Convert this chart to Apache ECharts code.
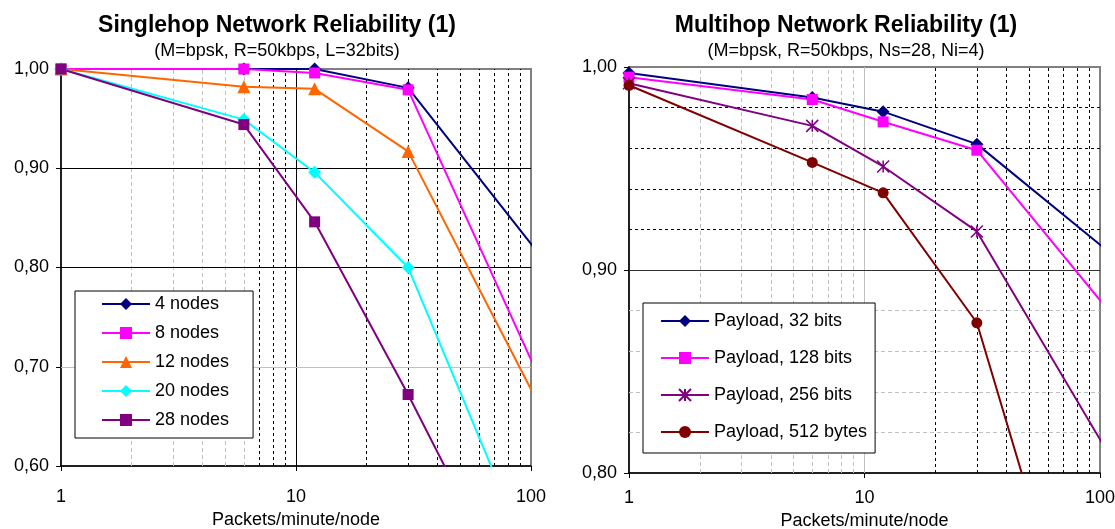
<!DOCTYPE html>
<html>
<head>
<meta charset="utf-8">
<script src="https://cdn.jsdelivr.net/npm/echarts@6/dist/echarts.min.js"></script>
<style>
html, body { margin: 0; padding: 0; background: #fff; }
#chart-container { width: 1115px; height: 529px; }
</style>
</head>
<body>
<div id="chart-container"></div>
<script>
// packets/minute/node (last point sits past the axis end, lines run off the plot)
var rates = [1, 6, 12, 30, 120];

// singlehop reliability, one array per node count
var singleNames = ['4 nodes', '8 nodes', '12 nodes', '20 nodes', '28 nodes'];
var nodes4  = [1.00, 1.00, 1.00, 0.981, 0.800];
var nodes8  = [1.00, 1.00, 0.996, 0.979, 0.666];
var nodes12 = [1.00, 0.982, 0.980, 0.917, 0.641];
var nodes20 = [1.00, 0.949, 0.896, 0.800, 0.459];
var nodes28 = [1.00, 0.944, 0.846, 0.672, 0.392];

// multihop reliability, one array per payload
var multiNames = ['Payload, 32 bits', 'Payload, 128 bits', 'Payload, 256 bits', 'Payload, 512 bytes'];
var pay32  = [0.997, 0.985, 0.978, 0.962, 0.905];
var pay128 = [0.995, 0.984, 0.973, 0.959, 0.874];
var pay256 = [0.992, 0.971, 0.951, 0.919, 0.801];
var pay512 = [0.991, 0.953, 0.938, 0.874, 0.640];

// tick labels
var xTicks = [1, 10, 100];

// grid line positions (the original mixes light and dark grid lines)
var singleLightX = [2, 3, 4, 5, 6];
var singleDarkX  = [7, 8, 9, 20, 30, 40, 50, 60, 70, 80, 90];
var singleSolidX = [10];
var singleDarkY  = [0.8, 0.9];
var singleLightY = [0.7];
var multiLightX  = [2, 3, 4, 5, 6, 7, 8, 9];
var multiLightSolidX = [10];
var multiDarkX   = [20, 30, 40, 50, 60, 70, 80, 90];
var multiDarkY   = [0.9];
var multiDarkDashY  = [0.92, 0.94, 0.96, 0.98];
var multiLightDashY = [0.82, 0.84, 0.86, 0.88];

var FONT = 'Liberation Sans, Arial, sans-serif';

function pairs(ys) {
  return rates.map(function (r, i) { return [r, ys[i]]; });
}

var light = { color: '#c0c0c0', width: 1, type: [4, 3] };
var lightSolid = { color: '#c0c0c0', width: 1, type: 'solid' };
var dark = { color: '#000', width: 1, type: [3, 3] };
var darkSolid = { color: '#000', width: 1, type: 'solid' };

function lines(vals, key, style) {
  return vals.map(function (v) {
    var o = { lineStyle: style };
    o[key] = v;
    return o;
  });
}

function gridSeries(idx, data) {
  return {
    type: 'line',
    xAxisIndex: idx,
    yAxisIndex: idx,
    data: [],
    silent: true,
    z: 1,
    markLine: {
      z: 1,
      silent: true,
      symbol: ['none', 'none'],
      label: { show: false },
      emphasis: { disabled: true },
      animation: false,
      data: data
    }
  };
}

function lineSeries(name, idx, ys, color, symbol, size, extra) {
  var s = {
    name: name,
    type: 'line',
    xAxisIndex: idx,
    yAxisIndex: idx,
    data: pairs(ys),
    z: 3,
    clip: true,
    symbol: symbol,
    symbolSize: size,
    showAllSymbol: true,
    lineStyle: { color: color, width: 2 },
    itemStyle: { color: color },
    emphasis: { disabled: true }
  };
  if (extra) Object.assign(s, extra);
  return s;
}

var asterisk = 'path://M0,0L10,10M10,0L0,10M5,0L5,10';

function xAxisOf(idx, margin, gap) {
  return {
    type: 'log',
    logBase: 10,
    gridIndex: idx,
    min: 1,
    max: 100,
    name: 'Packets/minute/node',
    nameLocation: 'middle',
    nameGap: gap,
    nameTextStyle: { fontSize: 18, fontFamily: FONT, color: '#000' },
    axisLine: { lineStyle: { color: '#000', width: 1.5 } },
    axisTick: { show: true, length: 5, lineStyle: { color: '#000' } },
    axisLabel: {
      fontSize: 18, fontFamily: FONT, color: '#000', margin: margin,
      formatter: function (v) { return xTicks.indexOf(v) >= 0 ? String(v) : ''; }
    },
    splitLine: { show: false },
    minorSplitLine: { show: false }
  };
}

function yAxisOf(idx, min) {
  return {
    type: 'value',
    gridIndex: idx,
    min: min,
    max: 1,
    interval: 0.1,
    axisLine: { show: true, lineStyle: { color: '#000', width: 1.5 } },
    axisTick: { show: true, length: 5, lineStyle: { color: '#000' } },
    axisLabel: {
      fontSize: 18, fontFamily: FONT, color: '#000', margin: 12,
      formatter: function (v) { return v.toFixed(2).replace('.', ','); }
    },
    splitLine: { show: false }
  };
}

var dom = document.getElementById('chart-container');
var myChart = echarts.init(dom, null, { renderer: 'canvas' });

var option = {
  animation: false,
  backgroundColor: '#fff',
  title: [
    {
      text: 'Singlehop Network Reliability (1)',
      subtext: '(M=bpsk, R=50kbps, L=32bits)',
      left: 277, top: 14, textAlign: 'center', padding: 0, itemGap: 5,
      textStyle: { fontSize: 23, fontWeight: 'bold', fontFamily: FONT, color: '#000' },
      subtextStyle: { fontSize: 18, fontFamily: FONT, color: '#000' }
    },
    {
      text: 'Multihop Network Reliability (1)',
      subtext: '(M=bpsk, R=50kbps, Ns=28, Ni=4)',
      left: 846, top: 14, textAlign: 'center', padding: 0, itemGap: 5,
      textStyle: { fontSize: 23, fontWeight: 'bold', fontFamily: FONT, color: '#000' },
      subtextStyle: { fontSize: 18, fontFamily: FONT, color: '#000' }
    }
  ],
  legend: [
    {
      data: singleNames,
      orient: 'vertical',
      left: 75, top: 291, z: 10,
      itemWidth: 48, itemHeight: 15, itemGap: 11,
      padding: [4, 24, 9, 26],
      borderColor: '#000', borderWidth: 1, backgroundColor: '#fff',
      selectedMode: false,
      textStyle: { fontSize: 18, lineHeight: 18, fontFamily: FONT, color: '#000' }
    },
    {
      data: multiNames,
      orient: 'vertical',
      left: 643, top: 303, z: 10,
      itemWidth: 48, itemHeight: 15, itemGap: 19,
      padding: [9, 8, 12, 17],
      borderColor: '#000', borderWidth: 1, backgroundColor: '#fff',
      selectedMode: false,
      textStyle: { fontSize: 18, lineHeight: 18, fontFamily: FONT, color: '#000' }
    }
  ],
  grid: [
    { left: 61, right: 584, top: 69, bottom: 63, outerBoundsMode: 'none', show: true, borderColor: '#808080', borderWidth: 2 },
    { left: 629, right: 15, top: 67, bottom: 56, outerBoundsMode: 'none', show: true, borderColor: '#808080', borderWidth: 2 }
  ],
  xAxis: [xAxisOf(0, 22, 45), xAxisOf(1, 16, 39)],
  yAxis: [yAxisOf(0, 0.6), yAxisOf(1, 0.8)],
  series: [
    gridSeries(0, [].concat(
      lines(singleLightX, 'xAxis', light),
      lines(singleDarkX, 'xAxis', dark),
      lines(singleSolidX, 'xAxis', darkSolid),
      lines(singleDarkY, 'yAxis', darkSolid),
      lines(singleLightY, 'yAxis', lightSolid)
    )),
    gridSeries(1, [].concat(
      lines(multiLightX, 'xAxis', light),
      lines(multiLightSolidX, 'xAxis', lightSolid),
      lines(multiDarkX, 'xAxis', dark),
      lines(multiDarkY, 'yAxis', { color: '#333', width: 1, type: 'solid' }),
      lines(multiDarkDashY, 'yAxis', dark),
      lines(multiLightDashY, 'yAxis', light)
    )),
    lineSeries(singleNames[0], 0, nodes4, '#000080', 'diamond', 13),
    lineSeries(singleNames[1], 0, nodes8, '#ff00ff', 'rect', 11),
    lineSeries(singleNames[2], 0, nodes12, '#ff6600', 'triangle', 13),
    lineSeries(singleNames[3], 0, nodes20, '#00ffff', 'diamond', 13),
    lineSeries(singleNames[4], 0, nodes28, '#800080', 'rect', 11),
    lineSeries(multiNames[0], 1, pay32, '#000080', 'diamond', 13),
    lineSeries(multiNames[1], 1, pay128, '#ff00ff', 'rect', 11),
    lineSeries(multiNames[2], 1, pay256, '#800080', asterisk, 12, {
      itemStyle: { color: '#800080', borderColor: '#800080', borderWidth: 1.5 }
    }),
    lineSeries(multiNames[3], 1, pay512, '#800000', 'circle', 11)
  ]
};

myChart.setOption(option);
window.addEventListener('resize', myChart.resize);
</script>
</body>
</html>
